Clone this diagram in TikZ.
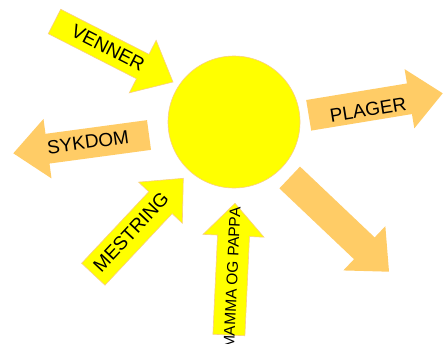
\documentclass[tikz,border=0pt]{standalone}
\usepackage{fontspec}
\setmainfont{Liberation Sans}
\usetikzlibrary{calc}
\definecolor{sunyellow}{RGB}{255,255,0}
\definecolor{lightorange}{RGB}{255,204,102}
\definecolor{edgeorange}{RGB}{250,205,130}
% #1 style, #2 tail coordinate, #3 tip coordinate, #4 half shaft width, #5 half head width, #6 head length
\newcommand\fatarrow[6]{%
  \coordinate (#2-m) at ($(#3)!#6!(#2)$);
  \path[#1] ($(#2)!#4!90:(#3)$) -- ($(#2-m)!#4!90:(#3)$) -- ($(#2-m)!#5!90:(#3)$) -- (#3)
    -- ($(#2-m)!#5!-90:(#3)$) -- ($(#2-m)!#4!-90:(#3)$) -- ($(#2)!#4!-90:(#3)$) -- cycle;}
\tikzset{
  yarrow/.style={fill=sunyellow, draw=edgeorange, line width=0.6pt, line join=miter},
  oarrow/.style={fill=lightorange},
  lbl/.style={font=\fontsize{19}{19}\selectfont, text=black, inner sep=0pt},
  smalllbl/.style={font=\fontsize{15.5}{15.5}\selectfont, text=black, inner sep=0pt},
  sunstyle/.style={circle, fill=sunyellow, draw=edgeorange, line width=0.6pt, minimum size=132pt, inner sep=0pt}
}
\begin{document}
\begin{tikzpicture}[x=1pt,y=-1pt]
\useasboundingbox[fill=white] (0,0) rectangle (443,343);
% sun
\node[sunstyle] (sun) at (234,122) {};
% coordinates of tails and tips
\coordinate (vT) at (54.5,21.5);  \coordinate (vP) at (173,82);
\coordinate (sT) at (149,135);    \coordinate (sP) at (13.3,153.3);
\coordinate (pT) at (308.7,115.3);\coordinate (pP) at (442.7,93.3);
\coordinate (mT) at (93.3,274.2); \coordinate (mP) at (183.3,178.3);
\coordinate (aT) at (228.9,335);  \coordinate (aP) at (235,203.3);
\coordinate (xT) at (289.7,177.5);\coordinate (xP) at (389,271.7);
% arrows
\fatarrow{yarrow}{vT}{vP}{13.7pt}{29.5pt}{34pt}
\fatarrow{oarrow}{sT}{sP}{15pt}{30pt}{34.5pt}
\fatarrow{oarrow}{pT}{pP}{15.5pt}{30pt}{33.7pt}
\fatarrow{yarrow}{mT}{mP}{16pt}{30pt}{33.4pt}
\fatarrow{yarrow}{aT}{aP}{16pt}{30.5pt}{32.5pt}
\fatarrow{oarrow}{xT}{xP}{15pt}{30.5pt}{34pt}
% labels
\node[lbl, rotate=-27] (venner) at (108,48) {VENNER};
\node[lbl, rotate=7.7] (sykdom) at (88,142) {SYKDOM};
\node[lbl, rotate=9.3] (plager) at (368,110) {PLAGER};
\node[lbl, rotate=46.8] (mestring) at (131,232) {MESTRING};
\node[smalllbl, rotate=87.4] (mamma) at (232,278) {MAMMA OG PAPPA};
\end{tikzpicture}
\end{document}
